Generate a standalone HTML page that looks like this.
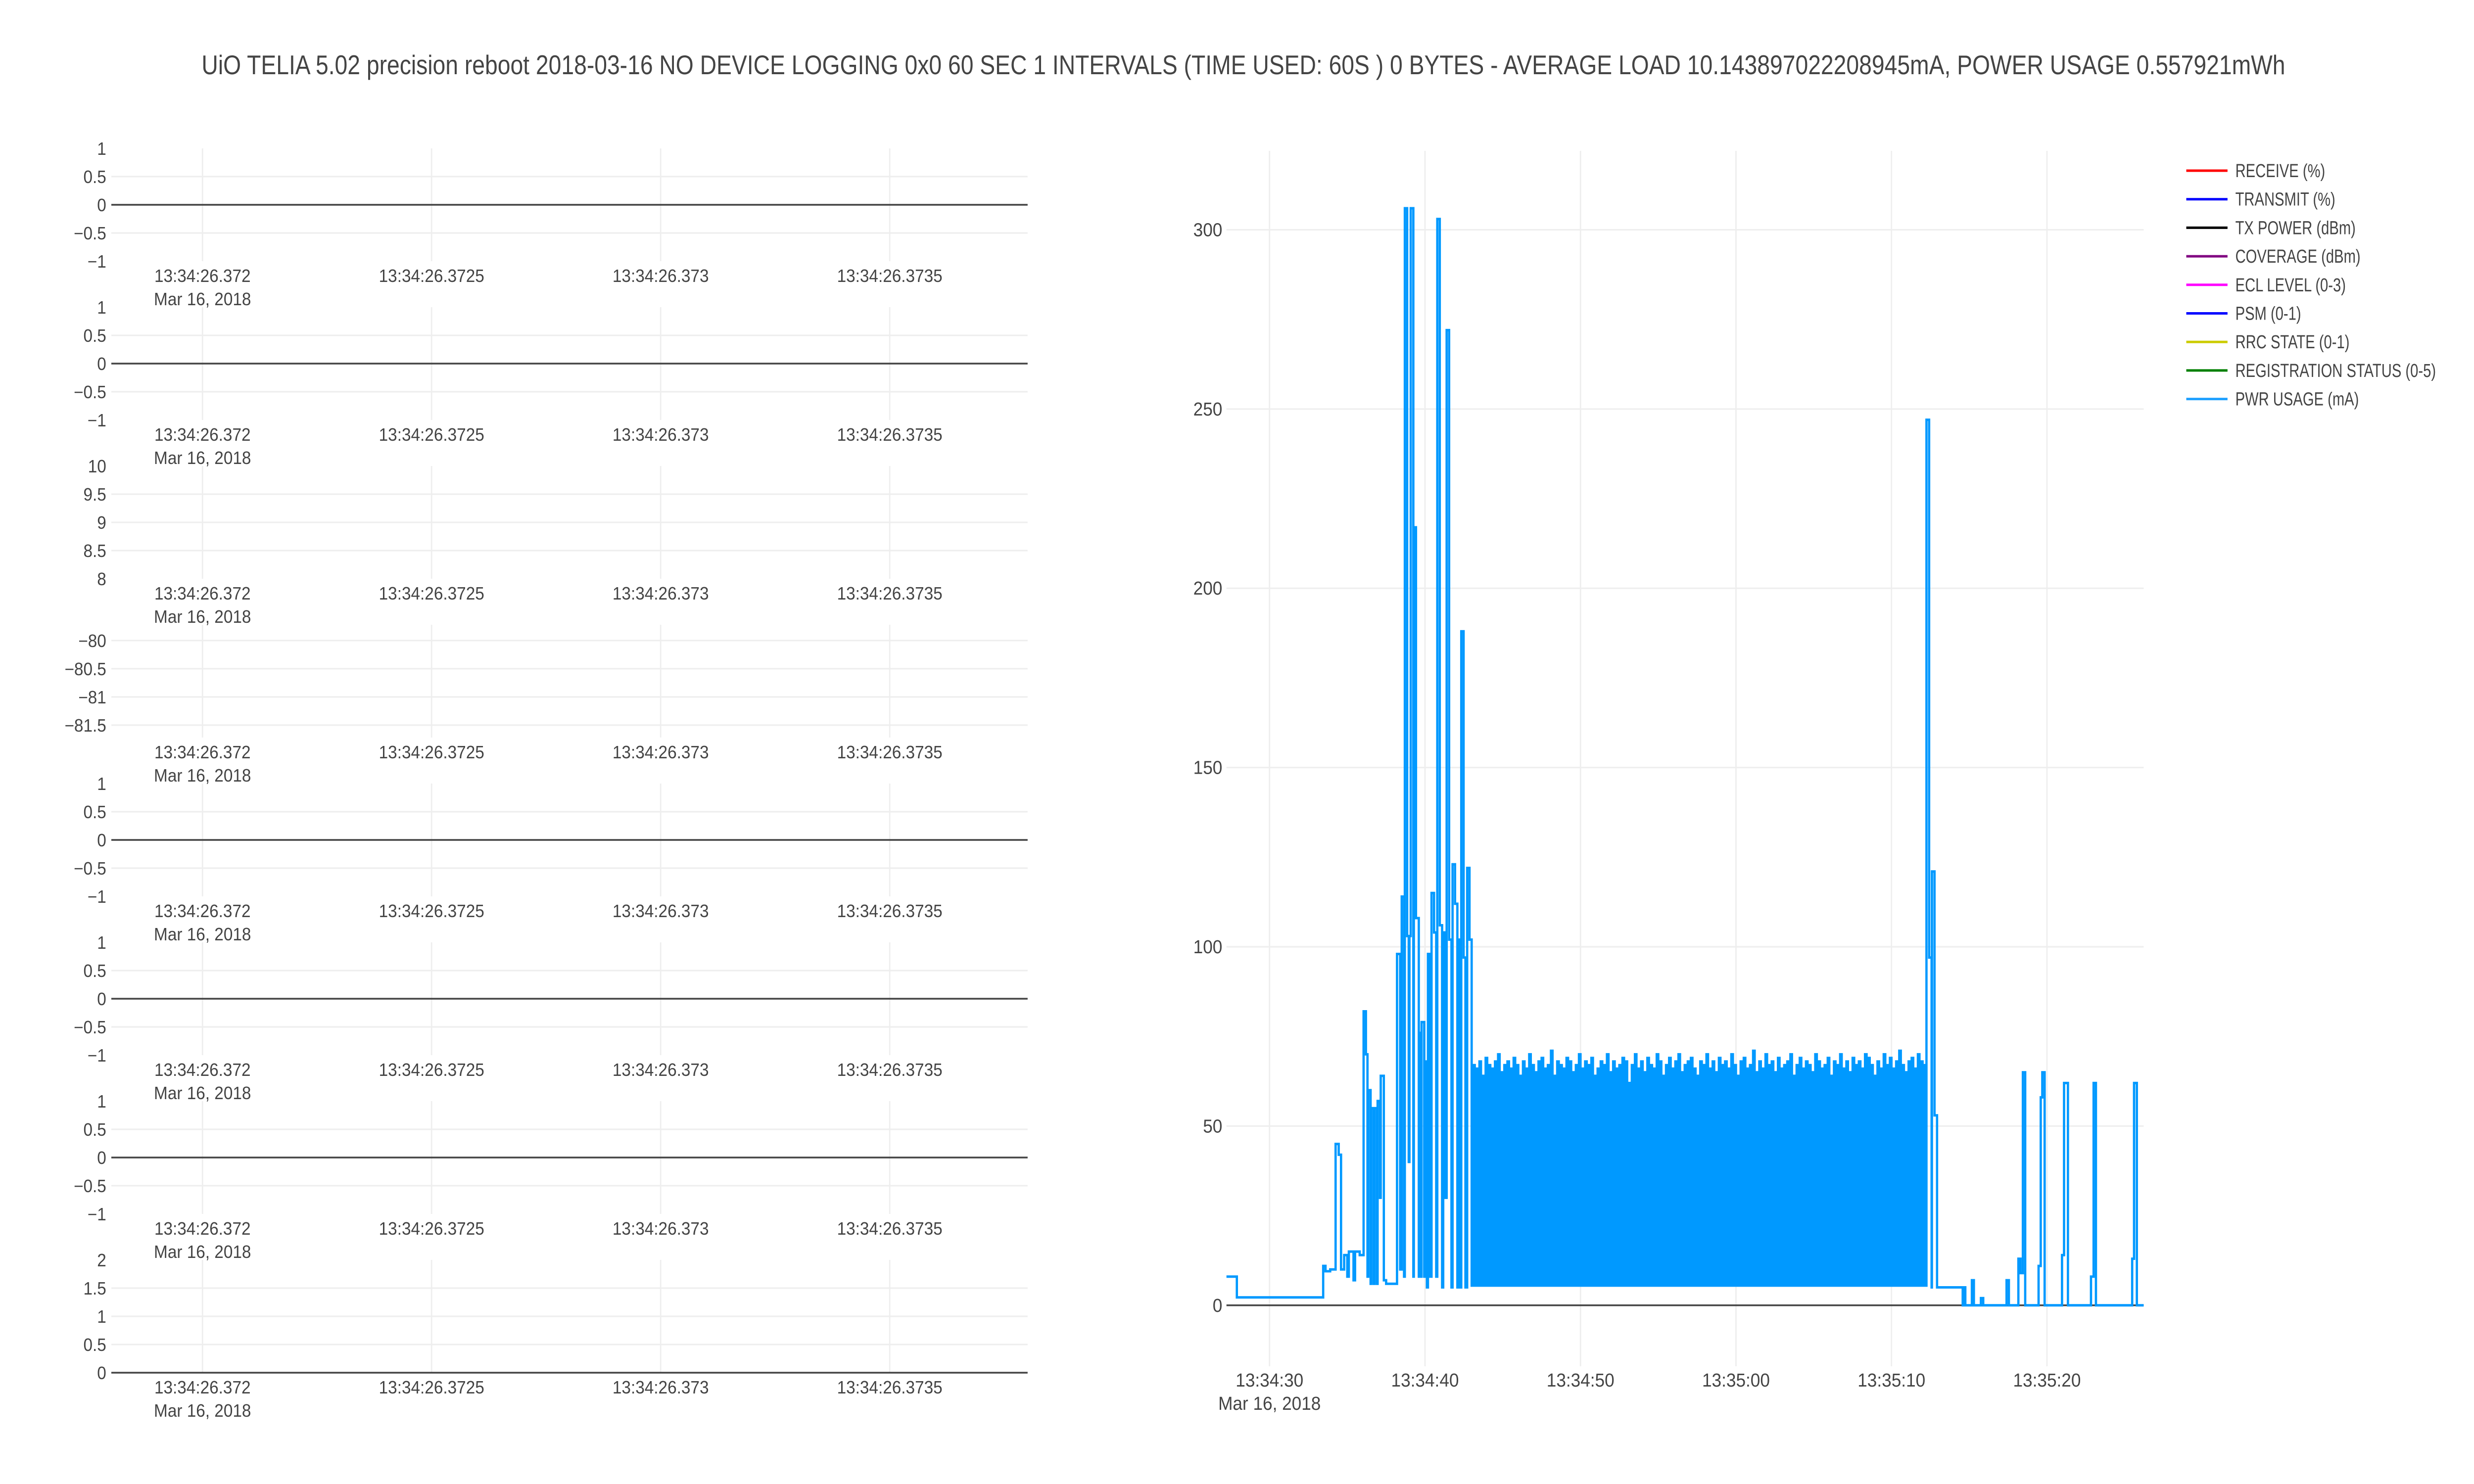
<!DOCTYPE html>
<html><head><meta charset="utf-8"><title>UiO TELIA power chart</title>
<style>
html,body{margin:0;padding:0;background:#fff;overflow:hidden;width:100%;height:100%;}
svg{display:block;font-family:"Liberation Sans",sans-serif;width:100vw;height:100vh;}
</style></head>
<body>
<svg id="chart" width="100%" height="100%" viewBox="0 0 5400 3000" preserveAspectRatio="none" xmlns="http://www.w3.org/2000/svg">
<rect width="5400" height="3000" fill="#fff"/>
<text x="2714" y="150" text-anchor="middle" font-size="55" fill="#444" textLength="4548" lengthAdjust="spacingAndGlyphs">UiO TELIA 5.02 precision reboot 2018-03-16  NO DEVICE LOGGING 0x0 60 SEC 1 INTERVALS (TIME USED: 60S ) 0 BYTES - AVERAGE LOAD 10.143897022208945mA, POWER USAGE 0.557921mWh</text>
<g id="left"></g>
<g id="right"></g>
<g id="legend"></g>
</svg>
<script>
// ---- left subplot data ----
const leftTickLabels = ["13:34:26.372","13:34:26.3725","13:34:26.373","13:34:26.3735"];
const leftTickVals = [0, 0.5, 1.0, 1.5]; // ms after 13:34:26.372
const panelRangeMin = [-1, -1, 8, -81.72, -1, -1, -1, 0];
const panelRangeMax = [1, 1, 10, -79.72, 1, 1, 1, 2];
const panelTicks = [
  [1,0.5,0,-0.5,-1],[1,0.5,0,-0.5,-1],[10,9.5,9,8.5,8],[-80,-80.5,-81,-81.5],
  [1,0.5,0,-0.5,-1],[1,0.5,0,-0.5,-1],[1,0.5,0,-0.5,-1],[2,1.5,1,0.5,0]];
const panelTickText = [
  ["1","0.5","0","\u22120.5","\u22121"],["1","0.5","0","\u22120.5","\u22121"],["10","9.5","9","8.5","8"],
  ["\u221280","\u221280.5","\u221281","\u221281.5"],["1","0.5","0","\u22120.5","\u22121"],
  ["1","0.5","0","\u22120.5","\u22121"],["1","0.5","0","\u22120.5","\u22121"],["2","1.5","1","0.5","0"]];
const panelLineValue = [0, 0, null, null, 0, 0, 0, 0];
const panelNames = ["receive","transmit","tx-power","coverage","ecl-level","psm","rrc-state","registration-status"];

// ---- power data (seconds after 13:34:00, step-hv) ----
const powT = [27.23,27.9,33.45,33.6,33.9,34.25,34.45,34.6,34.8,35.0,35.1,35.4,35.5,35.8,36.05,36.2,36.3,36.35,36.5,36.55,36.7,36.75,36.9,36.95,37.1,37.15,37.35,37.5,38.2,38.4,38.5,38.65,38.7,38.85,38.95,39.0,39.08,39.25,39.28,39.42,39.6,39.62,39.75,39.78,39.95,40.0,40.12,40.19,40.33,40.42,40.58,40.72,40.79,40.95,41.1,41.17,41.3,41.39,41.55,41.7,41.77,41.93,42.08,42.14,42.28,42.33,42.48,42.6,42.71,42.86,43.0];
const powV = [8,2.2,11,9.5,10,45,42,10,14,8,15,7,15,14,82,70,8,60,6,55,6,55,6,57,30,64,7,6,98,10,114,8,306,103,40,103,306,8,217,108,8,76,8,79,8,68,5,98,8,115,104,8,303,106,5,104,30,272,102,5,123,112,5,102,5,188,97,5,122,102,5.5];
const denseStart = 43.1;
const denseStep = 0.2;
const denseLow = 5.5;
const densePeaks = [67,66,68,64,69,67,66,68,70,65,67,68,66,69,67,64,68,66,70,67,65,68,69,66,67,71,64,68,67,66,69,68,65,67,70,66,68,67,69,64,66,68,67,70,65,68,66,67,69,68,62,67,70,66,68,65,69,67,66,70,68,64,67,69,66,68,70,65,67,68,69,66,64,68,67,70,66,68,65,69,67,68,66,70,67,64,68,69,66,67,71,65,68,66,70,67,68,65,69,66,67,68,70,64,67,69,66,68,67,65,70,68,66,67,69,64,68,67,70,66,68,65,69,67,68,66,70,69,67,64,68,66,70,67,69,66,68,71,67,65,68,69,66,70,68,67];
const tailT = [72.25,72.42,72.58,72.6,72.77,72.93,74.58,74.62,74.75,75.17,75.3,75.75,75.9,77.4,77.55,78.16,78.3,78.45,78.6,79.46,79.6,79.7,79.85,80.97,81.1,81.35,82.83,83.0,83.15,85.48,85.6,85.78,86.22];
const tailV = [247,97,5,121,53,5,0,5,0,7,0,2,0,7,0,13,9,65,0,11,58,65,0,14,62,0,8,62,0,13,62,0,0];
const rightYTicks = [0,50,100,150,200,250,300];
const rightXTickVals = [30,40,50,60,70,80];
const rightXTickLabels = ["13:34:30","13:34:40","13:34:50","13:35:00","13:35:10","13:35:20"];
const legendLabels = ["RECEIVE (%)","TRANSMIT (%)","TX POWER (dBm)","COVERAGE (dBm)","ECL LEVEL (0-3)","PSM (0-1)","RRC STATE (0-1)","REGISTRATION STATUS (0-5)","PWR USAGE (mA)"];
const legendColors = ["#ff0000","#0000ff","#000000","#800080","#ff00ff","#0000ff","#cccc00","#008000","#1ea0ff"];

const NS = "http://www.w3.org/2000/svg";
function mk(tag, attrs, parent){const e=document.createElementNS(NS,tag);for(const k in attrs)e.setAttribute(k,attrs[k]);parent.appendChild(e);return e;}

// ---- left subplots ----
const L = document.getElementById("left");
const LX0=243, LX1=2243, PH=228, PGAP=321, PTOP=300;
const lx = v => 442 + v*1000;
for(let p=0;p<8;p++){
  const top=PTOP+p*PGAP, bot=top+PH;
  const g=mk("g",{},L);
  
  
  const ly = v => bot - (v-panelRangeMin[p])/(panelRangeMax[p]-panelRangeMin[p])*PH;
  leftTickVals.forEach((v,i)=>{
    const gl=mk("line",{x1:lx(v),x2:lx(v),y1:top,y2:bot,stroke:"#eee","stroke-width":3},g);
    
    
    const t=mk("text",{x:lx(v),y:bot+42,"text-anchor":"middle","font-size":36,fill:"#444"},g);
    t.textContent=leftTickLabels[i];
    
    
  });
  const d=mk("text",{x:lx(0),y:bot+89,"text-anchor":"middle","font-size":36,fill:"#444"},g);
  d.textContent="Mar 16, 2018";
  
  
  panelTicks[p].forEach((v,i)=>{
    const y=ly(v);
    if(y>top+2 && y<bot-2 && v!==panelLineValue[p]){
      const gl=mk("line",{x1:LX0,x2:LX1,y1:y,y2:y,stroke:"#eee","stroke-width":3},g);
      
      
    }
    const t=mk("text",{x:232,y:y+13,"text-anchor":"end","font-size":36,fill:"#444"},g);
    t.textContent=panelTickText[p][i];
    
    
  });
  if(panelLineValue[p]!==null){
    const y=ly(panelLineValue[p]);
    const zl=mk("line",{x1:LX0,x2:LX1,y1:y,y2:y,stroke:"#444","stroke-width":3.5},g);
    
    
  }
}

// ---- right power plot ----
const R = document.getElementById("right");
const RX0=2677, RX1=4679, RT=305, RB=2762, XMIN=27.23, XMAX=86.22, YMIN=-17, YMAX=322;
const rx = t => RX0 + (t-XMIN)/(XMAX-XMIN)*(RX1-RX0);
const ry = v => RB - (v-YMIN)/(YMAX-YMIN)*(RB-RT);
rightXTickVals.forEach((t,i)=>{
  const gl=mk("line",{x1:rx(t),x2:rx(t),y1:RT,y2:RB,stroke:"#eee","stroke-width":3},R);
  
  
  const tx=mk("text",{x:rx(t),y:2803,"text-anchor":"middle","font-size":38,fill:"#444"},R);
  tx.textContent=rightXTickLabels[i];
  
  
});
const rd=mk("text",{x:rx(rightXTickVals[0]),y:2850,"text-anchor":"middle","font-size":38,fill:"#444"},R);
rd.textContent="Mar 16, 2018";


rightYTicks.forEach(v=>{
  if(v!==0){
    const gl=mk("line",{x1:RX0,x2:RX1,y1:ry(v),y2:ry(v),stroke:"#eee","stroke-width":3},R);
    
    
  }
  const t=mk("text",{x:2668,y:ry(v)+13,"text-anchor":"end","font-size":38,fill:"#444"},R);
  t.textContent=String(v);
  
  
});
const z=mk("line",{x1:RX0,x2:RX1,y1:ry(0),y2:ry(0),stroke:"#444","stroke-width":3.5},R);



// assemble step series
const T=[],V=[];
powT.forEach((t,i)=>{T.push(t);V.push(powV[i]);});
densePeaks.forEach((v,i)=>{const s=denseStart+i*denseStep;T.push(s);V.push(v);T.push(s+denseStep/2);V.push(denseLow);});
tailT.forEach((t,i)=>{T.push(t);V.push(tailV[i]);});
let d="M"+rx(T[0]).toFixed(1)+","+ry(V[0]).toFixed(1);
for(let i=1;i<T.length;i++){
  d+="H"+rx(T[i]).toFixed(1)+"V"+ry(V[i]).toFixed(1);
}
const pl=mk("path",{d:d,fill:"none",stroke:"#0099ff","stroke-width":5,"stroke-linejoin":"miter"},R);



// ---- legend ----
const LG=document.getElementById("legend");
legendLabels.forEach((lab,i)=>{
  const y=345+i*57.7;
  const g=mk("g",{},LG);
  
  
  mk("line",{x1:4772,x2:4862,y1:y,y2:y,stroke:legendColors[i],"stroke-width":5},g);
  const t=mk("text",{x:0,y:0,"font-size":38,fill:"#444",transform:"translate(4879,"+(y+13)+") scale(0.83,1)"},g);
  t.textContent=lab;
});
</script>
</body></html>
